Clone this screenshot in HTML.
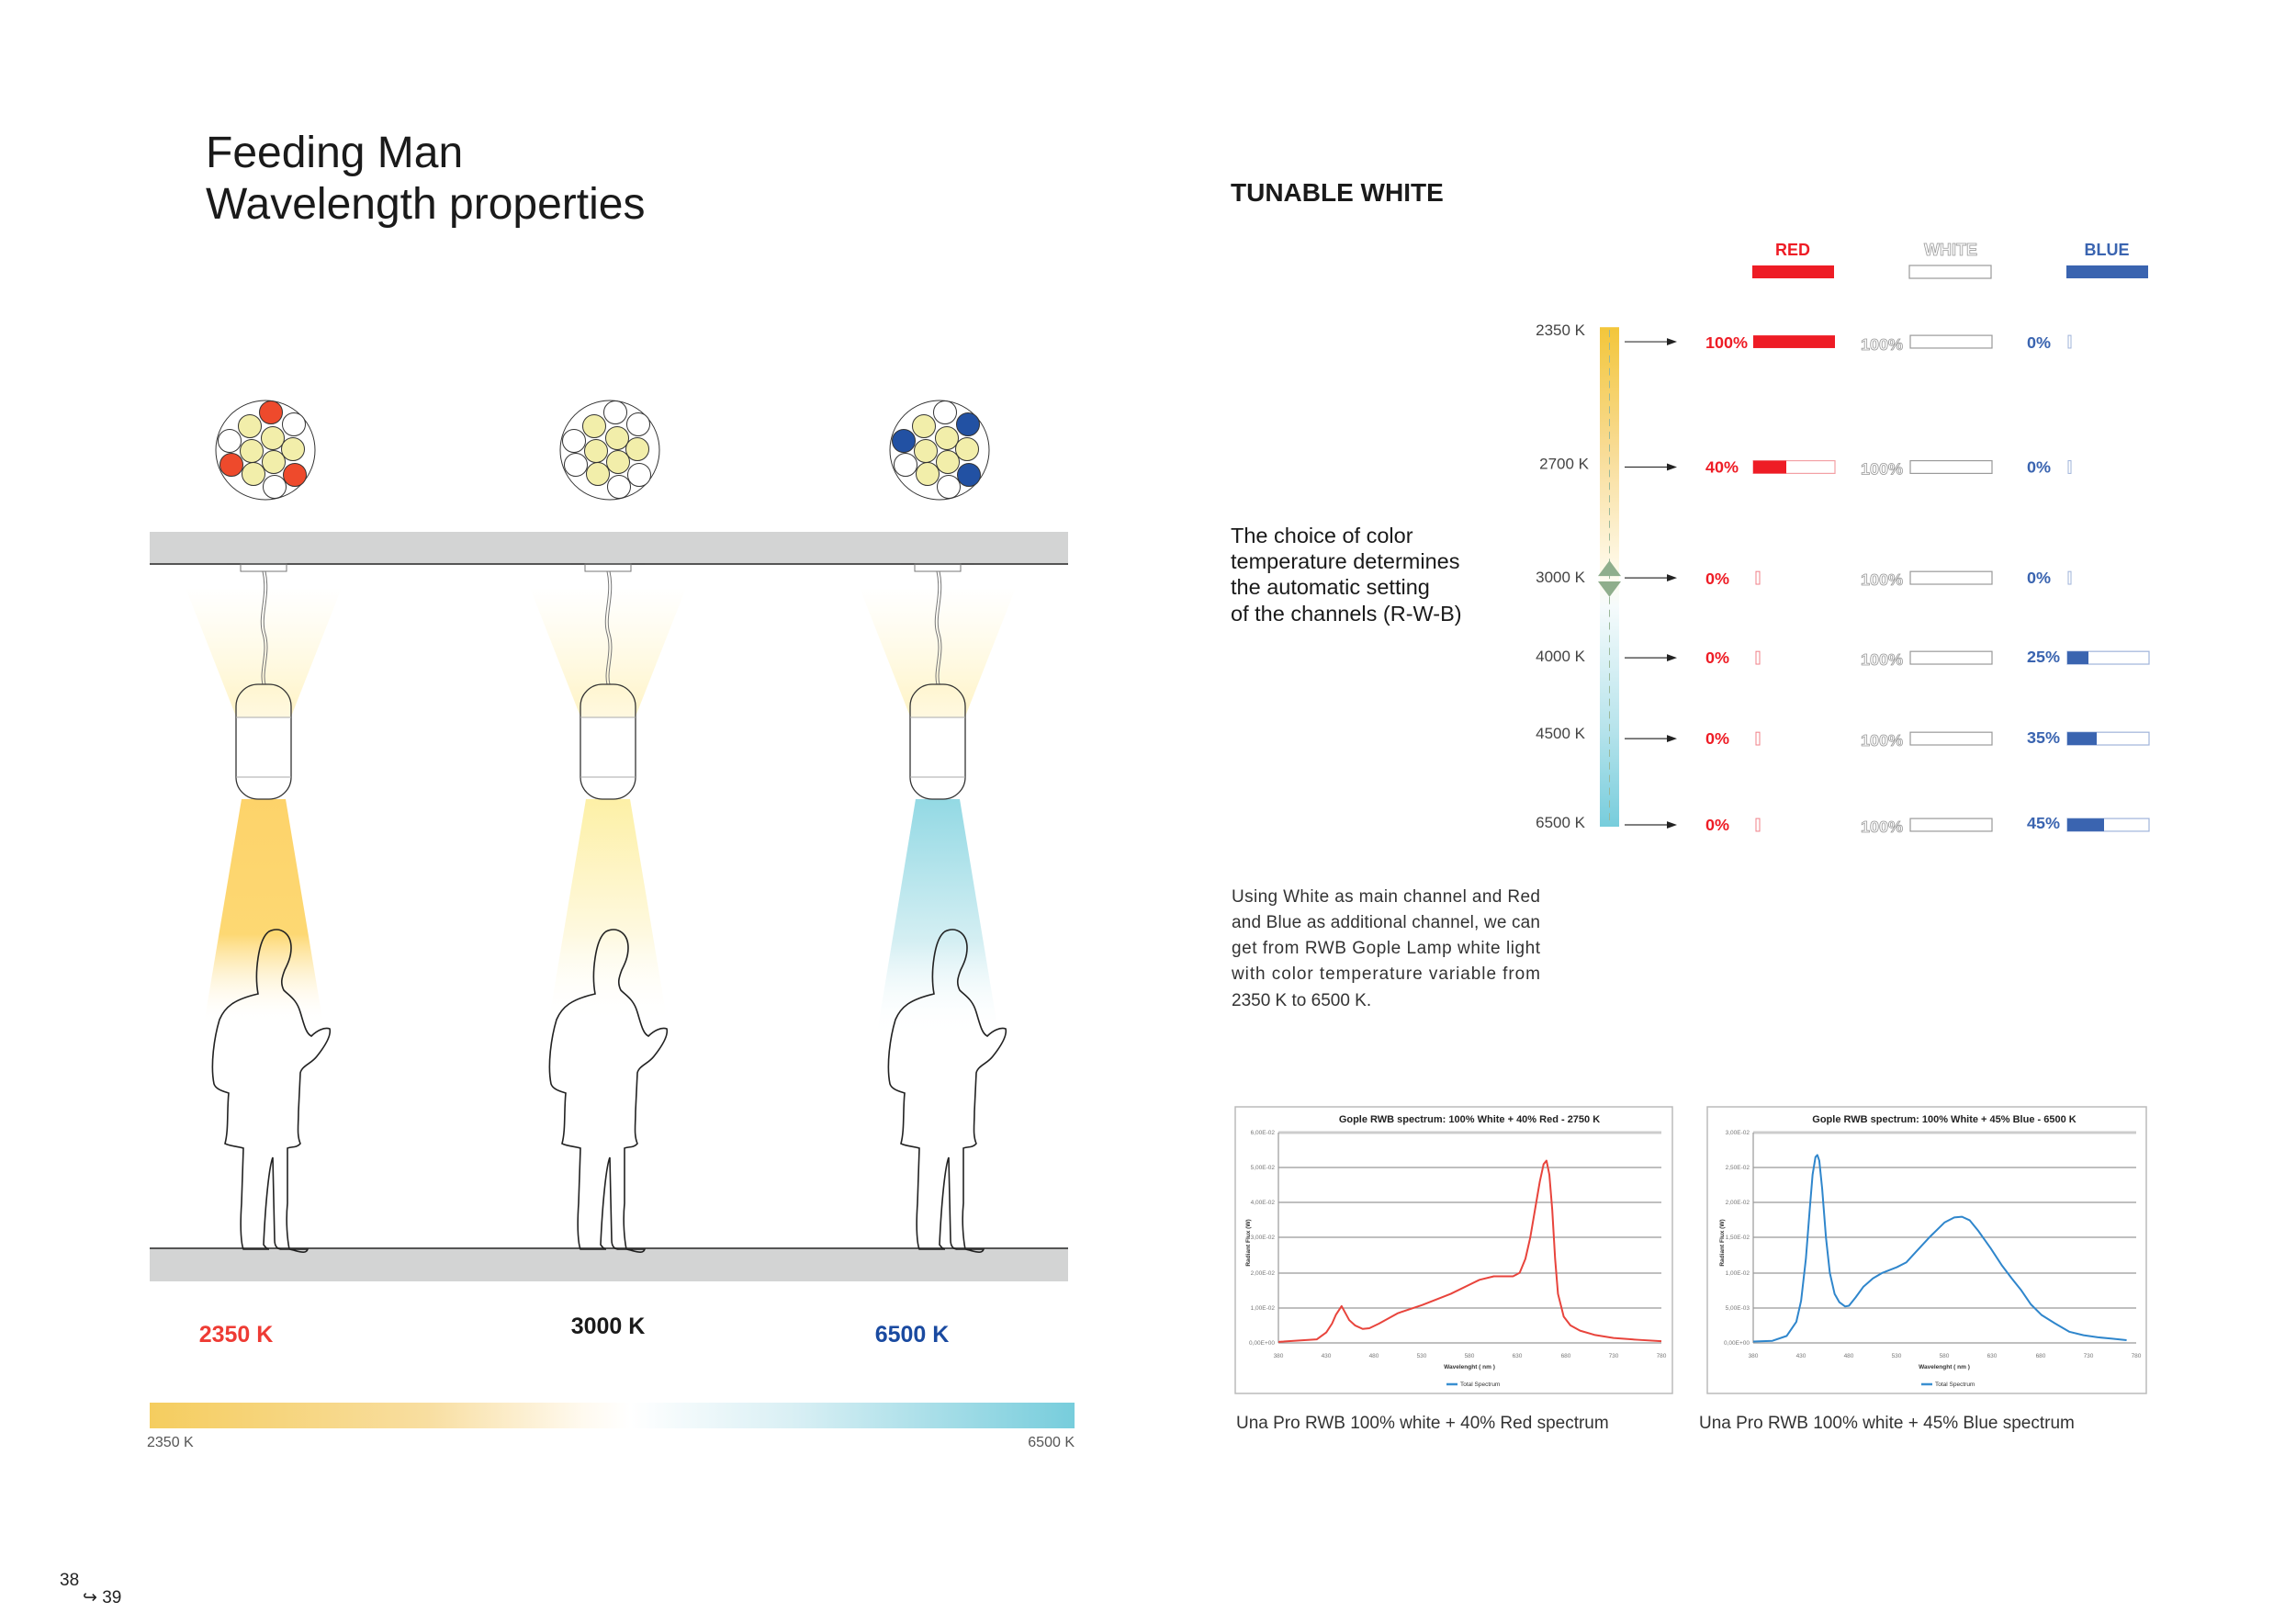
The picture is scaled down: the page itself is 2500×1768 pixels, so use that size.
<!DOCTYPE html>
<html><head><meta charset="utf-8"><style>
html,body{margin:0;padding:0;background:#fff}
svg{display:block}
text{font-family:"Liberation Sans",sans-serif}
</style></head><body>
<svg width="2500" height="1768" viewBox="0 0 2500 1768" xmlns="http://www.w3.org/2000/svg">
<defs>
<linearGradient id="hbar" x1="0" x2="1" y1="0" y2="0">
<stop offset="0" stop-color="#f5cd5f"/><stop offset="0.3" stop-color="#f8dea0"/><stop offset="0.47" stop-color="#fffaf0"/><stop offset="0.52" stop-color="#ffffff"/><stop offset="0.7" stop-color="#d8eff4"/><stop offset="1" stop-color="#77cddc"/></linearGradient>
<linearGradient id="vbar" x1="0" x2="0" y1="0" y2="1">
<stop offset="0" stop-color="#f3c63a"/><stop offset="0.25" stop-color="#f8dc96"/><stop offset="0.5" stop-color="#fffbee"/><stop offset="0.56" stop-color="#f5fbfc"/><stop offset="0.8" stop-color="#b8e4ec"/><stop offset="1" stop-color="#77cddc"/></linearGradient>
<linearGradient id="up" x1="0" x2="0" y1="0" y2="1"><stop offset="0" stop-color="#fff8d8" stop-opacity="0"/><stop offset="1" stop-color="#fff3c4" stop-opacity="1"/></linearGradient>
<linearGradient id="c1" x1="0" x2="0" y1="0" y2="1"><stop offset="0" stop-color="#fdd36a"/><stop offset="0.6" stop-color="#fdd873"/><stop offset="1" stop-color="#fff" stop-opacity="0"/></linearGradient>
<linearGradient id="c2" x1="0" x2="0" y1="0" y2="1"><stop offset="0" stop-color="#fdf0a6"/><stop offset="0.6" stop-color="#fef9e0"/><stop offset="1" stop-color="#fff" stop-opacity="0"/></linearGradient>
<linearGradient id="c3" x1="0" x2="0" y1="0" y2="1"><stop offset="0" stop-color="#93d9e4"/><stop offset="0.6" stop-color="#d5eff3"/><stop offset="1" stop-color="#fff" stop-opacity="0"/></linearGradient>
<linearGradient id="lamp" x1="0" x2="0" y1="0" y2="1"><stop offset="0" stop-color="#fff6d0"/><stop offset="0.28" stop-color="#fff8e0"/><stop offset="0.29" stop-color="#fff"/><stop offset="1" stop-color="#fff"/></linearGradient>
<g id="person"><path d="M -14,72 C -18,50 -14,12 -2,4 C 10,-2 22,6 22,22 C 22,32 18,40 15,46 C 12,54 10,60 14,68 C 20,74 28,78 32,92 C 36,105 38,115 44,118 C 50,112 58,108 64,110 C 66,118 58,130 50,140 C 44,148 34,150 32,158 L 30,200 C 30,215 28,225 32,235 C 28,240 22,238 18,240 L 18,300 C 16,320 18,340 20,350 C 30,352 38,356 40,350 L 12,350 C 8,350 4,348 4,340 L 2,250 C -2,260 -6,300 -8,345 C -6,348 -4,350 -2,350 L -30,350 C -32,345 -34,330 -32,300 L -30,240 C -36,238 -44,238 -50,235 C -46,220 -48,200 -46,180 C -52,178 -60,176 -62,170 C -66,150 -62,120 -56,100 C -50,86 -40,78 -14,72 Z" fill="none" stroke="#222" stroke-width="1.6"/></g>
<g id="lampg">
<polygon points="-85,640 85,640 30,780 -30,780" fill="url(#up)"/>
<line x1="-40" y1="614" x2="40" y2="614" stroke="#555" stroke-width="1.5"/>
<rect x="-25" y="614" width="50" height="8" fill="none" stroke="#777" stroke-width="1"/>
<path d="M -1,622 C 5,650 -7,670 -1,690 C 5,710 -5,730 -1,745 M 2,622 C 8,650 -4,670 2,690 C 8,710 -2,730 2,745" fill="none" stroke="#777" stroke-width="1"/>
<rect x="-30" y="745" width="60" height="125" rx="24" fill="url(#lamp)" stroke="#333" stroke-width="1.3"/>
<line x1="-30" y1="781" x2="30" y2="781" stroke="#aaa"/>
<line x1="-30" y1="846" x2="30" y2="846" stroke="#aaa"/>
</g>
</defs>

<text x="224" y="182" font-size="48" fill="#1a1a1a">Feeding Man</text>
<text x="224" y="238" font-size="48" fill="#1a1a1a">Wavelength properties</text>

<g stroke="#333" stroke-width="1">
<g transform="translate(289,490)"><circle r="54" fill="#fff"/>
<circle cx="6" cy="-41" r="12.5" fill="#ee4a2c"/><circle cx="31" cy="-28" r="12.5" fill="#fff"/><circle cx="-17" cy="-26" r="12.5" fill="#f2eeaa"/><circle cx="-39" cy="-10" r="12.5" fill="#fff"/><circle cx="8" cy="-13" r="12.5" fill="#f2eeaa"/><circle cx="-15" cy="1" r="12.5" fill="#f2eeaa"/><circle cx="30" cy="-1" r="12.5" fill="#f2eeaa"/><circle cx="-37" cy="16" r="12.5" fill="#ee4a2c"/><circle cx="9" cy="13" r="12.5" fill="#f2eeaa"/><circle cx="32" cy="27" r="12.5" fill="#ee4a2c"/><circle cx="-13" cy="26" r="12.5" fill="#f2eeaa"/><circle cx="10" cy="40" r="12.5" fill="#fff"/></g>
<g transform="translate(664,490)"><circle r="54" fill="#fff"/>
<circle cx="6" cy="-41" r="12.5" fill="#fff"/><circle cx="31" cy="-28" r="12.5" fill="#fff"/><circle cx="-17" cy="-26" r="12.5" fill="#f2eeaa"/><circle cx="-39" cy="-10" r="12.5" fill="#fff"/><circle cx="8" cy="-13" r="12.5" fill="#f2eeaa"/><circle cx="-15" cy="1" r="12.5" fill="#f2eeaa"/><circle cx="30" cy="-1" r="12.5" fill="#f2eeaa"/><circle cx="-37" cy="16" r="12.5" fill="#fff"/><circle cx="9" cy="13" r="12.5" fill="#f2eeaa"/><circle cx="32" cy="27" r="12.5" fill="#fff"/><circle cx="-13" cy="26" r="12.5" fill="#f2eeaa"/><circle cx="10" cy="40" r="12.5" fill="#fff"/></g>
<g transform="translate(1023,490)"><circle r="54" fill="#fff"/>
<circle cx="6" cy="-41" r="12.5" fill="#fff"/><circle cx="31" cy="-28" r="12.5" fill="#2251a3"/><circle cx="-17" cy="-26" r="12.5" fill="#f2eeaa"/><circle cx="-39" cy="-10" r="12.5" fill="#2251a3"/><circle cx="8" cy="-13" r="12.5" fill="#f2eeaa"/><circle cx="-15" cy="1" r="12.5" fill="#f2eeaa"/><circle cx="30" cy="-1" r="12.5" fill="#f2eeaa"/><circle cx="-37" cy="16" r="12.5" fill="#fff"/><circle cx="9" cy="13" r="12.5" fill="#f2eeaa"/><circle cx="32" cy="27" r="12.5" fill="#2251a3"/><circle cx="-13" cy="26" r="12.5" fill="#f2eeaa"/><circle cx="10" cy="40" r="12.5" fill="#fff"/></g>
</g>

<rect x="163" y="579" width="1000" height="35" fill="#d3d4d4"/>
<line x1="163" y1="614" x2="1163" y2="614" stroke="#555" stroke-width="2"/>
<rect x="163" y="1359" width="1000" height="36" fill="#d3d4d4"/>
<line x1="163" y1="1359" x2="1163" y2="1359" stroke="#555" stroke-width="2"/>

<polygon points="263,870 311,870 352,1115 222,1115" fill="url(#c1)"/>
<polygon points="638,870 686,870 727,1115 597,1115" fill="url(#c2)"/>
<polygon points="997,870 1045,870 1088,1130 954,1130" fill="url(#c3)"/>
<use href="#lampg" transform="translate(287,0)"/>
<use href="#lampg" transform="translate(662,0)"/>
<use href="#lampg" transform="translate(1021,0)"/>
<use href="#person" transform="translate(295,1010)"/>
<use href="#person" transform="translate(662,1010)"/>
<use href="#person" transform="translate(1031,1010)"/>

<text x="257" y="1461" font-size="25" font-weight="bold" fill="#ee3b34" text-anchor="middle">2350 K</text>
<text x="662" y="1452" font-size="25" font-weight="bold" fill="#1a1a1a" text-anchor="middle">3000 K</text>
<text x="993" y="1461" font-size="25" font-weight="bold" fill="#1a4aa0" text-anchor="middle">6500 K</text>

<rect x="163" y="1527" width="1007" height="28" fill="url(#hbar)"/>
<text x="160" y="1575" font-size="16" fill="#555">2350 K</text>
<text x="1170" y="1575" font-size="16" fill="#555" text-anchor="end">6500 K</text>

<text x="65" y="1726" font-size="19" fill="#222">38</text>
<text x="90" y="1745" font-size="19" fill="#222">↪ 39</text>

<text x="1340" y="219" font-size="28" font-weight="bold" fill="#1a1a1a">TUNABLE WHITE</text>
<g transform="translate(-8,0)">
<text x="1960" y="278" font-size="18" font-weight="bold" fill="#ee1c25" text-anchor="middle">RED</text>
<text x="2132" y="278" font-size="18" font-weight="bold" fill="#fff" stroke="#999" stroke-width="0.8" text-anchor="middle">WHITE</text>
<text x="2302" y="278" font-size="18" font-weight="bold" fill="#3a64b0" text-anchor="middle">BLUE</text>
<rect x="1916" y="289" width="89" height="14" fill="#ee1c25"/>
<rect x="2087" y="289" width="89" height="14" fill="#fff" stroke="#999" stroke-width="1.2"/>
<rect x="2258" y="289" width="89" height="14" fill="#3a64b0"/>
</g>

<text x="1340" y="591" font-size="23.5" fill="#1a1a1a">The choice of color</text>
<text x="1340" y="619" font-size="23.5" fill="#1a1a1a">temperature determines</text>
<text x="1340" y="647" font-size="23.5" fill="#1a1a1a">the automatic setting</text>
<text x="1340" y="676" font-size="23.5" fill="#1a1a1a">of the channels (R-W-B)</text>

<g transform="translate(-7,0) translate(0,375) scale(1,0.9887) translate(0,-378)">
<rect x="1749" y="359" width="21" height="550" fill="url(#vbar)"/>
<line x1="1759.5" y1="362" x2="1759.5" y2="906" stroke="#9bb89a" stroke-width="1" stroke-dasharray="8,6"/>
<polygon points="1747,633 1772,633 1759.5,616" fill="#8fae8c"/>
<polygon points="1747,639 1772,639 1759.5,656" fill="#8fae8c"/>

<g font-size="17" fill="#444" text-anchor="end">
<text x="1733" y="368">2350 K</text><text x="1737" y="515">2700 K</text><text x="1733" y="640">3000 K</text><text x="1733" y="727">4000 K</text><text x="1733" y="812">4500 K</text><text x="1733" y="910">6500 K</text></g>

<g stroke="#333" stroke-width="1.2">
<line x1="1776" y1="375" x2="1825" y2="375"/><line x1="1776" y1="513" x2="1825" y2="513"/><line x1="1776" y1="635" x2="1825" y2="635"/><line x1="1776" y1="723" x2="1825" y2="723"/><line x1="1776" y1="812" x2="1825" y2="812"/><line x1="1776" y1="907" x2="1825" y2="907"/></g>
<g fill="#222">
<polygon points="1822,371 1833,375 1822,379"/><polygon points="1822,509 1833,513 1822,517"/><polygon points="1822,631 1833,635 1822,639"/><polygon points="1822,719 1833,723 1822,727"/><polygon points="1822,808 1833,812 1822,816"/><polygon points="1822,903 1833,907 1822,911"/></g>

<g font-size="18" font-weight="bold" fill="#ee1c25">
<text x="1864" y="382">100%</text><text x="1864" y="519">40%</text><text x="1864" y="642">0%</text><text x="1864" y="729">0%</text><text x="1864" y="818">0%</text><text x="1864" y="913">0%</text></g>
<rect x="1916" y="368" width="89" height="14" fill="#ee1c25"/>
<rect x="1916" y="506" width="89" height="14" fill="#fff" stroke="#f3a0a4" stroke-width="1.2"/><rect x="1916" y="506" width="36" height="14" fill="#ee1c25"/>
<g fill="none" stroke="#f08088" stroke-width="1"><rect x="1919" y="628" width="4" height="14"/><rect x="1919" y="716" width="4" height="14"/><rect x="1919" y="805" width="4" height="14"/><rect x="1919" y="900" width="4" height="14"/></g>

<g font-size="18" font-weight="bold" fill="#fff" stroke="#999" stroke-width="0.8">
<text x="2033" y="384">100%</text><text x="2033" y="521">100%</text><text x="2033" y="643">100%</text><text x="2033" y="731">100%</text><text x="2033" y="820">100%</text><text x="2033" y="915">100%</text></g>
<g fill="#fff" stroke="#999" stroke-width="1.2">
<rect x="2087" y="368" width="89" height="14"/><rect x="2087" y="506" width="89" height="14"/><rect x="2087" y="628" width="89" height="14"/><rect x="2087" y="716" width="89" height="14"/><rect x="2087" y="805" width="89" height="14"/><rect x="2087" y="900" width="89" height="14"/></g>

<g font-size="18" font-weight="bold" fill="#3a64b0">
<text x="2214" y="382">0%</text><text x="2214" y="519">0%</text><text x="2214" y="641">0%</text><text x="2214" y="728">25%</text><text x="2214" y="817">35%</text><text x="2214" y="911">45%</text></g>
<g fill="none" stroke="#9fb3da" stroke-width="1"><rect x="2259" y="368" width="3" height="14"/><rect x="2259" y="506" width="3" height="14"/><rect x="2259" y="628" width="3" height="14"/></g>
<g fill="#fff" stroke="#9fb3da" stroke-width="1.2"><rect x="2258" y="716" width="89" height="14"/><rect x="2258" y="805" width="89" height="14"/><rect x="2258" y="900" width="89" height="14"/></g>
<rect x="2258" y="716" width="23" height="14" fill="#3a64b0"/><rect x="2258" y="805" width="32" height="14" fill="#3a64b0"/><rect x="2258" y="900" width="40" height="14" fill="#3a64b0"/>
</g>

<g font-size="19" fill="#333">
<text x="1341" y="982" textLength="336" lengthAdjust="spacing">Using White as main channel and Red</text>
<text x="1341" y="1010" textLength="336" lengthAdjust="spacing">and Blue as additional channel, we can</text>
<text x="1341" y="1038" textLength="336" lengthAdjust="spacing">get from RWB Gople Lamp white light</text>
<text x="1341" y="1066" textLength="336" lengthAdjust="spacing">with color temperature variable from</text>
<text x="1341" y="1095">2350 K to 6500 K.</text></g>

<g transform="translate(-5,0)">
<rect x="1350" y="1205" width="476" height="312" fill="#fff" stroke="#bbb" stroke-width="1.5"/>
<text x="1605" y="1222" font-size="11" font-weight="bold" fill="#222" text-anchor="middle">Gople RWB spectrum: 100% White + 40% Red - 2750 K</text>
<g stroke="#999" stroke-width="1.2"><line x1="1397" y1="1233" x2="1814" y2="1233" stroke="#ccc" stroke-width="3"/><line x1="1397" y1="1271" x2="1814" y2="1271"/><line x1="1397" y1="1309" x2="1814" y2="1309"/><line x1="1397" y1="1347" x2="1814" y2="1347"/><line x1="1397" y1="1386" x2="1814" y2="1386"/><line x1="1397" y1="1424" x2="1814" y2="1424"/><line x1="1397" y1="1462" x2="1814" y2="1462"/><line x1="1397" y1="1233" x2="1397" y2="1462"/></g>
<g font-size="6.5" fill="#777" text-anchor="end"><text x="1393" y="1235">6,00E-02</text><text x="1393" y="1273">5,00E-02</text><text x="1393" y="1311">4,00E-02</text><text x="1393" y="1349">3,00E-02</text><text x="1393" y="1388">2,00E-02</text><text x="1393" y="1426">1,00E-02</text><text x="1393" y="1464">0,00E+00</text></g>
<g font-size="6.5" fill="#777" text-anchor="middle"><text x="1397" y="1478">380</text><text x="1449" y="1478">430</text><text x="1501" y="1478">480</text><text x="1553" y="1478">530</text><text x="1605" y="1478">580</text><text x="1657" y="1478">630</text><text x="1710" y="1478">680</text><text x="1762" y="1478">730</text><text x="1814" y="1478">780</text></g>
<text x="1605" y="1490" font-size="6.5" font-weight="bold" fill="#333" text-anchor="middle">Wavelenght ( nm )</text>
<text transform="translate(1366,1353) rotate(-90)" font-size="6.5" font-weight="bold" fill="#333" text-anchor="middle">Radiant Flux (W)</text>
<line x1="1580" y1="1507" x2="1592" y2="1507" stroke="#3a8fd0" stroke-width="2.5"/><text x="1595" y="1509" font-size="6.5" fill="#333">Total Spectrum</text>
<polyline transform="translate(1397,1462) scale(1.0425,-3.817)" vector-effect="non-scaling-stroke" fill="none" stroke="#e8443c" stroke-width="2" stroke-linejoin="round" points="0,0.3 40,1 50,3 56,5.5 60,8 66,10.5 70,8.5 74,6.5 80,5 88,4 95,4.2 105,5.5 125,8.5 150,10.8 180,14 210,18 225,19 245,19 252,20 258,24 263,30 268,38 273,46 277,51 280,52 283,48 286,38 289,24 292,14 298,7.5 305,5 315,3.5 330,2.3 350,1.4 375,0.9 400,0.5"/>
</g>

<g transform="translate(-7,0)">
<rect x="1866" y="1205" width="478" height="312" fill="#fff" stroke="#bbb" stroke-width="1.5"/>
<text x="2124" y="1222" font-size="11" font-weight="bold" fill="#222" text-anchor="middle">Gople RWB spectrum: 100% White + 45% Blue - 6500 K</text>
<g stroke="#999" stroke-width="1.2"><line x1="1916" y1="1233" x2="2333" y2="1233" stroke="#ccc" stroke-width="3"/><line x1="1916" y1="1271" x2="2333" y2="1271"/><line x1="1916" y1="1309" x2="2333" y2="1309"/><line x1="1916" y1="1347" x2="2333" y2="1347"/><line x1="1916" y1="1386" x2="2333" y2="1386"/><line x1="1916" y1="1424" x2="2333" y2="1424"/><line x1="1916" y1="1462" x2="2333" y2="1462"/><line x1="1916" y1="1233" x2="1916" y2="1462"/></g>
<g font-size="6.5" fill="#777" text-anchor="end"><text x="1912" y="1235">3,00E-02</text><text x="1912" y="1273">2,50E-02</text><text x="1912" y="1311">2,00E-02</text><text x="1912" y="1349">1,50E-02</text><text x="1912" y="1388">1,00E-02</text><text x="1912" y="1426">5,00E-03</text><text x="1912" y="1464">0,00E+00</text></g>
<g font-size="6.5" fill="#777" text-anchor="middle"><text x="1916" y="1478">380</text><text x="1968" y="1478">430</text><text x="2020" y="1478">480</text><text x="2072" y="1478">530</text><text x="2124" y="1478">580</text><text x="2176" y="1478">630</text><text x="2229" y="1478">680</text><text x="2281" y="1478">730</text><text x="2333" y="1478">780</text></g>
<text x="2124" y="1490" font-size="6.5" font-weight="bold" fill="#333" text-anchor="middle">Wavelenght ( nm )</text>
<text transform="translate(1884,1353) rotate(-90)" font-size="6.5" font-weight="bold" fill="#333" text-anchor="middle">Radiant Flux (W)</text>
<line x1="2099" y1="1507" x2="2111" y2="1507" stroke="#3a8fd0" stroke-width="2.5"/><text x="2114" y="1509" font-size="6.5" fill="#333">Total Spectrum</text>
<polyline transform="translate(1916,1462) scale(1.0425,-7.633)" vector-effect="non-scaling-stroke" fill="none" stroke="#2f86cc" stroke-width="2" stroke-linejoin="round" points="0,0.2 20,0.3 35,1 45,3 50,6 55,12 59,19 62,24 65,26.5 67,26.8 69,26 72,22 76,15 80,10 85,7 90,5.8 96,5.2 100,5.3 107,6.5 115,8 125,9.2 135,10 150,10.8 160,11.5 170,13 185,15.2 200,17.2 210,17.9 218,18 226,17.5 235,16 248,13.5 260,11 270,9.2 280,7.5 290,5.5 301,4 315,2.8 330,1.6 345,1.1 360,0.8 375,0.6 390,0.4"/>
</g>

<text x="1346" y="1555" font-size="19" fill="#333">Una Pro RWB 100% white + 40% Red spectrum</text>
<text x="1850" y="1555" font-size="19" fill="#333">Una Pro RWB 100% white + 45% Blue spectrum</text>
</svg>
</body></html>
